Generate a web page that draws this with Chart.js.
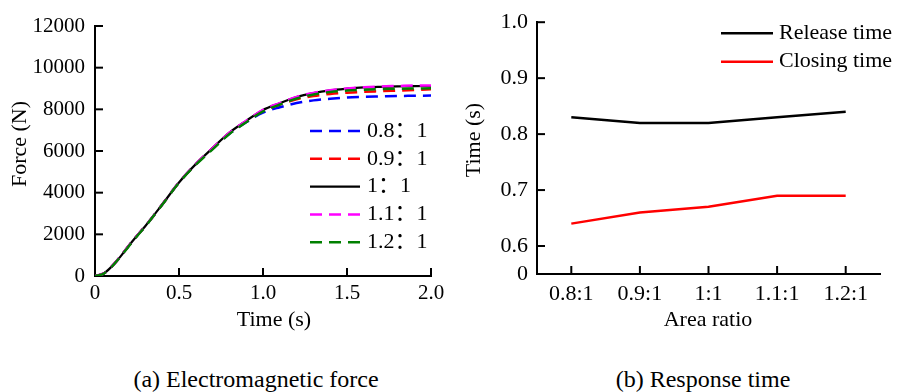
<!DOCTYPE html>
<html>
<head>
<meta charset="utf-8">
<script src="https://cdn.jsdelivr.net/npm/chart.js@4.4.1/dist/chart.umd.min.js"></script>
<style>
  body { margin: 0; background: #fff; }
  #page { position: relative; width: 899px; height: 392px; overflow: hidden; font-family: 'Liberation Serif', 'Times New Roman', serif; }
  canvas { position: absolute; top: 0; }
  #forceChart { left: 0; }
  #timeChart { left: 450px; }
  .caption { position: absolute; top: 364px; font-size: 24px; line-height: 30px; color: #000; white-space: nowrap; transform: translateX(-50%); }
</style>
</head>
<body>
<div id="page">
  <canvas id="forceChart" width="450" height="340"></canvas>
  <canvas id="timeChart" width="449" height="340"></canvas>
  <div class="caption" style="left:256px">(a) Electromagnetic force</div>
  <div class="caption" style="left:703px">(b) Response time</div>
</div>
<script>
// (a) electromagnetic force vs time, one curve per area ratio
const timeS = [0, 0.05, 0.1, 0.15, 0.2, 0.25, 0.3, 0.4, 0.5, 0.6, 0.7, 0.8, 0.9, 1.0, 1.1, 1.2, 1.3, 1.4, 1.5, 1.6, 1.7, 1.8, 1.9, 2.0];
const force08 = [0, 110, 460, 920, 1440, 1930, 2400, 3430, 4490, 5370, 6120, 6830, 7380, 7840, 8100, 8300, 8430, 8510, 8570, 8600, 8620, 8640, 8650, 8660];
const force09 = [0, 110, 460, 920, 1440, 1930, 2400, 3430, 4490, 5370, 6130, 6860, 7420, 7920, 8230, 8480, 8640, 8740, 8800, 8840, 8870, 8900, 8930, 8960];
const force10 = [0, 110, 460, 920, 1440, 1930, 2400, 3430, 4490, 5370, 6140, 6880, 7450, 7970, 8290, 8590, 8780, 8910, 8990, 9050, 9080, 9100, 9110, 9120];
const force11 = [0, 110, 460, 920, 1440, 1930, 2400, 3430, 4500, 5380, 6140, 6880, 7450, 7970, 8300, 8600, 8790, 8920, 9000, 9060, 9100, 9120, 9140, 9150];
const force12 = [0, 100, 450, 910, 1420, 1910, 2380, 3420, 4480, 5340, 6080, 6820, 7380, 7900, 8230, 8520, 8710, 8830, 8900, 8940, 8970, 8990, 9000, 9010];
const forceLabels = ['0.8：1', '0.9：1', '1：1', '1.1：1', '1.2：1'];
const forceTicks = [0, 2000, 4000, 6000, 8000, 10000, 12000];
const timeTicks = [0, 0.5, 1.0, 1.5, 2.0];

// (b) release / closing time per area ratio
const ratioLabels = ['0.8:1', '0.9:1', '1:1', '1.1:1', '1.2:1'];
const releaseTime = [0.83, 0.82, 0.82, 0.83, 0.84];
const closingTime = [0.64, 0.66, 0.67, 0.69, 0.69];
const responseTicks = [0, 0.6, 0.7, 0.8, 0.9, 1.0];
const responseFloor = 0.55; // broken axis: the "0" tick sits here

const FONT = "'Liberation Serif', 'Noto Sans CJK SC', serif";
Chart.defaults.font.family = FONT;
Chart.defaults.color = '#000';
Chart.defaults.animation = false;

// short tick marks pointing into the plot
const innerTicks = {
  id: 'innerTicks',
  afterDraw(chart, args, opts) {
    const { ctx, chartArea } = chart;
    const xs = chart.scales.x, ys = chart.scales.y;
    ctx.save();
    ctx.strokeStyle = '#000';
    ctx.lineWidth = opts.width;
    xs.ticks.forEach((t, i) => {
      const px = xs.getPixelForTick(i);
      if (Math.abs(px - chartArea.left) < 1) return;
      ctx.beginPath();
      ctx.moveTo(px, chartArea.bottom);
      ctx.lineTo(px, chartArea.bottom - opts.length);
      ctx.stroke();
    });
    ys.ticks.forEach((t, i) => {
      const py = ys.getPixelForTick(i);
      if (Math.abs(py - chartArea.bottom) < 1) return;
      ctx.beginPath();
      ctx.moveTo(chartArea.left, py);
      ctx.lineTo(chartArea.left + opts.length, py);
      ctx.stroke();
    });
    ctx.restore();
  }
};

// axis titles placed by hand (x title below ticks, y title rotated)
const axisTitles = {
  id: 'axisTitles',
  afterDraw(chart, args, opts) {
    const { ctx } = chart;
    ctx.save();
    ctx.font = opts.font;
    ctx.fillStyle = '#000';
    ctx.textAlign = 'center';
    ctx.textBaseline = 'middle';
    ctx.fillText(opts.x.text, opts.x.cx, opts.x.cy);
    ctx.translate(opts.y.cx, opts.y.cy);
    ctx.rotate(-Math.PI / 2);
    ctx.fillText(opts.y.text, 0, 0);
    ctx.restore();
  }
};

// legend drawn as line samples + text, using each dataset's own stroke
const lineLegend = {
  id: 'lineLegend',
  afterDraw(chart, args, opts) {
    const { ctx } = chart;
    ctx.save();
    ctx.font = opts.font;
    ctx.textBaseline = 'middle';
    chart.data.datasets.forEach((ds, i) => {
      const y = opts.y + i * opts.rowHeight;
      ctx.beginPath();
      ctx.setLineDash(ds.borderDash || []);
      ctx.strokeStyle = ds.borderColor;
      ctx.lineWidth = ds.borderWidth;
      ctx.moveTo(opts.x, y);
      ctx.lineTo(opts.x + opts.lineLength, y);
      ctx.stroke();
      ctx.setLineDash([]);
      ctx.fillStyle = '#000';
      ctx.fillText(ds.label, opts.x + opts.lineLength + opts.gap, y);
    });
    ctx.restore();
  }
};

const forceColors = ['#0000ff', '#ff0000', '#000000', '#ff00ff', '#008000'];
const forceSeries = [force08, force09, force10, force11, force12];

new Chart(document.getElementById('forceChart'), {
  type: 'line',
  data: {
    datasets: forceSeries.map((vals, i) => ({
      label: forceLabels[i],
      data: vals.map((v, j) => ({ x: timeS[j], y: v })),
      borderColor: forceColors[i],
      borderWidth: i === 2 ? 2.2 : 2.5,
      borderDash: i === 2 ? [] : [12, 7],
      pointRadius: 0,
      cubicInterpolationMode: 'monotone',
      order: 5 - i,
    })),
  },
  options: {
    responsive: false,
    layout: { padding: { left: 0, top: 26, right: 19, bottom: 0 } },
    plugins: {
      legend: { display: false },
      tooltip: { enabled: false },
      lineLegend: { x: 310, y: 131, rowHeight: 27.8, lineLength: 50, gap: 7, font: `22px ${FONT}` },
      innerTicks: { length: 8, width: 2 },
      axisTitles: {
        font: `22px ${FONT}`,
        x: { text: 'Time (s)', cx: 274, cy: 320 },
        y: { text: 'Force (N)', cx: 20, cy: 144 },
      },
    },
    scales: {
      x: {
        type: 'linear',
        min: 0,
        max: 2,
        afterBuildTicks: (scale) => { scale.ticks = timeTicks.map(v => ({ value: v })); },
        afterFit: (scale) => { scale.height = 64; },
        ticks: {
          padding: 5,
          font: { size: 21 },
          callback: (v) => (v === 0 ? '0' : v.toFixed(1)),
        },
        grid: { display: false, drawTicks: false },
        border: { color: '#000', width: 2 },
      },
      y: {
        min: 0,
        max: 12000,
        afterBuildTicks: (scale) => { scale.ticks = forceTicks.map(v => ({ value: v })); },
        afterFit: (scale) => { scale.width = 95; },
        ticks: { padding: 10, font: { size: 21 }, callback: (v) => String(v) },
        grid: { display: false, drawTicks: false },
        border: { color: '#000', width: 2 },
      },
    },
  },
  plugins: [innerTicks, axisTitles, lineLegend],
});

new Chart(document.getElementById('timeChart'), {
  type: 'line',
  data: {
    labels: ratioLabels,
    datasets: [
      { label: 'Release time', data: releaseTime, borderColor: '#000000', borderWidth: 2.5, pointRadius: 0, tension: 0 },
      { label: 'Closing time', data: closingTime, borderColor: '#ff0000', borderWidth: 2.5, pointRadius: 0, tension: 0 },
    ],
  },
  options: {
    responsive: false,
    layout: { padding: { left: 0, top: 17, right: 19, bottom: 0 } },
    plugins: {
      legend: { display: false },
      tooltip: { enabled: false },
      lineLegend: { x: 271, y: 33.3, rowHeight: 28.4, lineLength: 52, gap: 6, font: `22px ${FONT}` },
      innerTicks: { length: 8, width: 2 },
      axisTitles: {
        font: `22px ${FONT}`,
        x: { text: 'Area ratio', cx: 258, cy: 320 },
        y: { text: 'Time (s)', cx: 24, cy: 140 },
      },
    },
    scales: {
      x: {
        type: 'category',
        offset: true,
        afterFit: (scale) => { scale.height = 66; },
        ticks: { padding: 7, font: { size: 22 } },
        grid: { display: false, drawTicks: false },
        border: { color: '#000', width: 2 },
      },
      y: {
        min: responseFloor,
        max: 1.0,
        afterBuildTicks: (scale) => {
          scale.ticks = responseTicks.map(v => ({ value: v === 0 ? responseFloor : v }));
        },
        afterFit: (scale) => { scale.width = 87; },
        ticks: {
          padding: 9,
          font: { size: 22 },
          callback: (v) => (v === responseFloor ? '0' : v.toFixed(1)),
        },
        grid: { display: false, drawTicks: false },
        border: { color: '#000', width: 2 },
      },
    },
  },
  plugins: [innerTicks, axisTitles, lineLegend],
});
</script>
</body>
</html>
